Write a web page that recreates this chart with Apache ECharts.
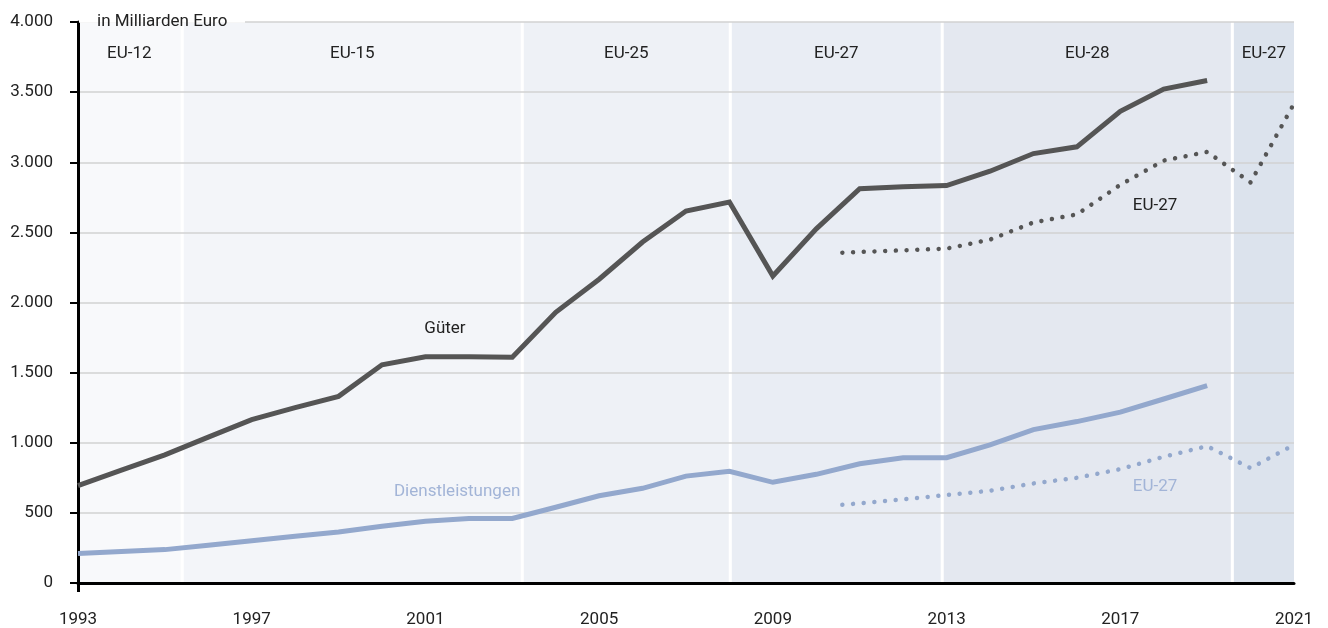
<!DOCTYPE html>
<html>
<head>
<meta charset="utf-8">
<script src="https://cdn.jsdelivr.net/npm/echarts@6/dist/echarts.min.js"></script>
<style>
  html, body { margin: 0; padding: 0; background: #fff; }
  #chart { width: 1328px; height: 628px; }
</style>
</head>
<body>
<div id="chart"></div>
<script>
// Werte in Milliarden Euro
var years = [1993, 1994, 1995, 1996, 1997, 1998, 1999, 2000, 2001, 2002, 2003, 2004, 2005, 2006,
  2007, 2008, 2009, 2010, 2011, 2012, 2013, 2014, 2015, 2016, 2017, 2018, 2019];
var gueter = [695, 805, 914, 1040, 1165, 1250, 1331, 1556, 1613, 1613, 1610, 1930, 2166, 2431,
  2652, 2716, 2189, 2525, 2811, 2825, 2834, 2936, 3062, 3110, 3363, 3522, 3583];
var dienst = [210, 224, 238, 269, 302, 334, 364, 405, 440, 460, 460, 540, 622, 675,
  762, 797, 718, 775, 850, 893, 893, 985, 1094, 1151, 1218, 1312, 1407];

// EU-27 Vergleichsreihen (gepunktet)
var eu27Years = [2010.6, 2011, 2012, 2013, 2014, 2015, 2016, 2017, 2018, 2019, 2020, 2021];
var gueterEU27 = [2355, 2360, 2372, 2384, 2448, 2571, 2628, 2839, 3012, 3074, 2856, 3418];
var dienstEU27 = [558, 568, 597, 627, 658, 710, 750, 812, 900, 976, 819, 985];

// Erweiterungsphasen im Hintergrund
var bandNames = ["EU-12", "EU-15", "EU-25", "EU-27", "EU-28", "EU-27"];
var bandEdges = [1993, 1995.4, 2003.23, 2008.02, 2012.9, 2019.58, 2021];
var bandColors = ["#f8f9fb", "#f3f5f9", "#eef1f6", "#e9edf4", "#e4e8f0", "#dce3ed"];

var font = "Roboto, 'Liberation Sans', sans-serif";
var fs = 17;
var dark = "#555555";
var blue = "#93a8cd";

function pairs(xs, ys) {
  return xs.map(function (x, i) { return [x, ys[i]]; });
}
function deNum(v) {
  return String(v).replace(/\B(?=(\d{3})+(?!\d))/g, ".");
}

// weisse Trennfugen zwischen den Phasen
var gap = 0.035;
var bands = bandNames.map(function (name, i) {
  return [
    { name: name, xAxis: bandEdges[i] + (i > 0 ? gap : 0), yAxis: 4000, itemStyle: { color: bandColors[i] } },
    { xAxis: bandEdges[i + 1] - (i < bandNames.length - 1 ? gap : 0), yAxis: 0 }
  ];
});

var myChart = echarts.init(document.getElementById("chart"));

var option = {
  animation: false,
  grid: { left: 78, right: 34, top: 22, bottom: 44 },
  xAxis: {
    type: "value",
    min: 1993,
    max: 2021,
    interval: 4,
    z: 2,
    splitLine: { show: false },
    axisLine: { lineStyle: { color: "#000", width: 3 } },
    axisTick: { show: true, customValues: [1993], length: 9, lineStyle: { color: "#000", width: 3 } },
    axisLabel: { color: "#222", fontSize: fs, fontFamily: font, margin: 28, formatter: function (v) { return String(v); } }
  },
  yAxis: {
    type: "value",
    min: 0,
    max: 4000,
    interval: 500,
    z: 2,
    axisLine: { show: true, lineStyle: { color: "#000", width: 3 } },
    axisTick: { show: true, length: 8, lineStyle: { color: "#000", width: 2 } },
    axisLabel: { color: "#222", fontSize: fs, fontFamily: font, margin: 25, formatter: deNum },
    splitLine: { lineStyle: { color: "#d2d2d2", width: 1.5 } }
  },
  series: [
    {
      type: "line",
      data: [],
      markArea: {
        silent: true,
        z: 1,
        label: { show: true, position: "insideTop", distance: 23, color: "#222", fontSize: fs, fontFamily: font },
        data: bands
      }
    },
    {
      name: "Dienstleistungen",
      type: "line",
      z: 3,
      showSymbol: false,
      symbol: "none",
      data: pairs(years, dienst),
      lineStyle: { color: blue, width: 5, join: "miter" }
    },
    {
      name: "Güter",
      type: "line",
      z: 3,
      showSymbol: false,
      symbol: "none",
      data: pairs(years, gueter),
      lineStyle: { color: dark, width: 5, join: "miter" }
    },
    {
      name: "Dienstleistungen EU-27",
      type: "line",
      z: 3,
      showSymbol: false,
      symbol: "none",
      data: pairs(eu27Years, dienstEU27),
      lineStyle: { color: blue, width: 4.5, type: [0.01, 10.7], cap: "round" }
    },
    {
      name: "Güter EU-27",
      type: "line",
      z: 3,
      showSymbol: false,
      symbol: "none",
      data: pairs(eu27Years, gueterEU27),
      lineStyle: { color: dark, width: 4.5, type: [0.01, 10.7], cap: "round" }
    }
  ]
};
myChart.setOption(option);

// Beschriftungen an den Linien (Datenkoordinaten)
var notes = [
  { text: "Güter", at: [2001.45, 1810], color: "#222" },
  { text: "Dienstleistungen", at: [2001.73, 650], color: "#a2b4d7" },
  { text: "EU-27", at: [2017.8, 2690], color: "#222" },
  { text: "EU-27", at: [2017.8, 685], color: "#a2b4d7" }
];
var graphics = notes.map(function (n) {
  var p = myChart.convertToPixel({ gridIndex: 0 }, n.at);
  return {
    type: "text",
    x: p[0],
    y: p[1],
    z: 10,
    style: { text: n.text, fill: n.color, font: fs + "px " + font, align: "center", verticalAlign: "middle",
      textAlign: "center", textVerticalAlign: "middle" }
  };
});
// Einheit oben links, ueberdeckt die oberste Gitterlinie
graphics.push({
  type: "rect", z: 10, shape: { x: 79, y: 10, width: 166, height: 12.8 }, style: { fill: "#fff" }
});
graphics.push({
  type: "text", x: 97, y: 22, z: 11,
  style: { text: "in Milliarden Euro", fill: "#222", font: fs + "px " + font, align: "left", verticalAlign: "middle",
    textAlign: "left", textVerticalAlign: "middle" }
});
myChart.setOption({ graphic: graphics });

window.addEventListener("resize", function () {
  myChart.resize();
});
</script>
</body>
</html>
